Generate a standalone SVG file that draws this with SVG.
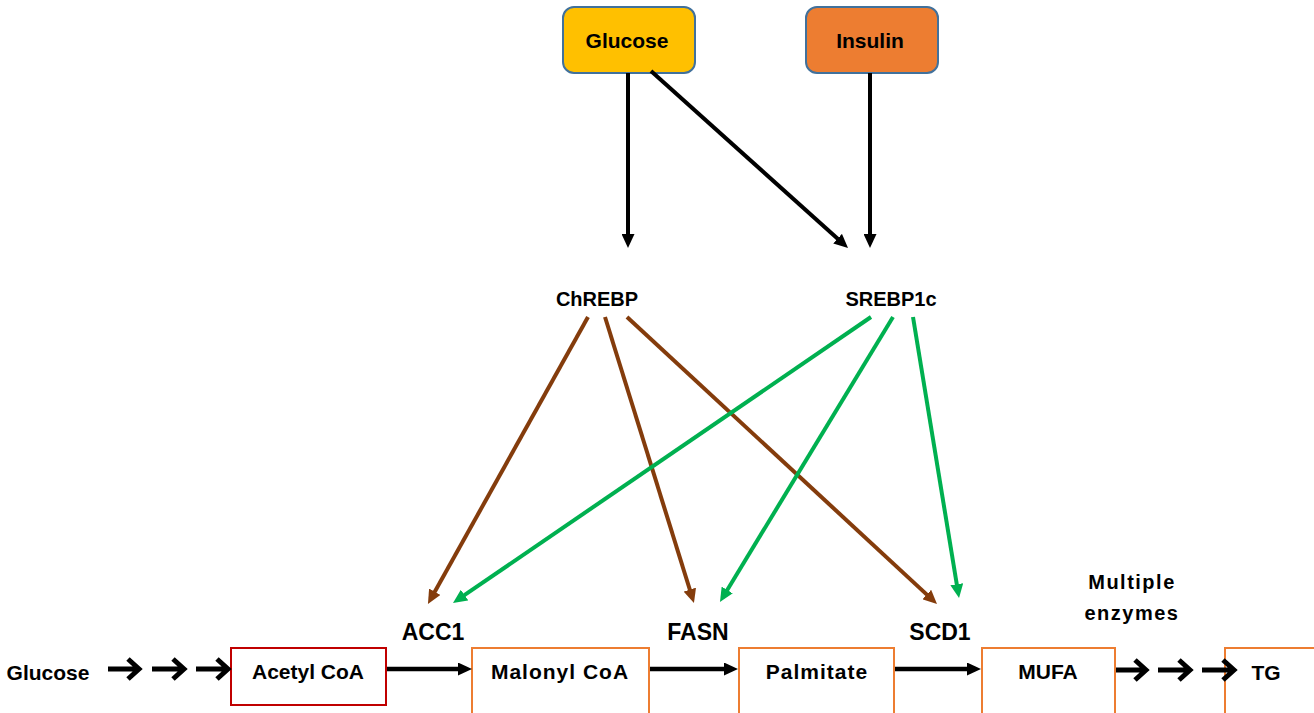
<svg xmlns="http://www.w3.org/2000/svg" width="1314" height="713" viewBox="0 0 1314 713">
<style>
text{font-family:"Liberation Sans",Arial,sans-serif;font-weight:bold;fill:#000;text-anchor:middle}
.top{fill:#FFC000;stroke:#41719C;stroke-width:2}
.ins{fill:#ED7D31;stroke:#41719C;stroke-width:2}
.box{fill:#fff;stroke:#ED7D31;stroke-width:2}
.red{fill:#fff;stroke:#C00000;stroke-width:2}
.blk{stroke:#000;stroke-width:4;fill:none}
.hz{stroke:#000;stroke-width:4.5;fill:none}
.brn{stroke:#843C0C;stroke-width:4;fill:none}
.grn{stroke:#00B050;stroke-width:4;fill:none}
.chev{stroke:#000;stroke-width:5;fill:none;stroke-linejoin:miter}
.t21{font-size:21px}
.t20{font-size:20px}
.t23{font-size:23px}
.ls1{letter-spacing:1px}
.ls15{letter-spacing:1.5px}
</style>
<defs>
<marker id="ab" markerUnits="userSpaceOnUse" markerWidth="14" markerHeight="13" refX="2" refY="6.5" orient="auto"><path d="M0,0 L14,6.5 L0,13 z" fill="#000"/></marker>
<marker id="ar" markerUnits="userSpaceOnUse" markerWidth="14" markerHeight="13" refX="2" refY="6.5" orient="auto"><path d="M0,0 L14,6.5 L0,13 z" fill="#843C0C"/></marker>
<marker id="ag" markerUnits="userSpaceOnUse" markerWidth="14" markerHeight="13" refX="2" refY="6.5" orient="auto"><path d="M0,0 L14,6.5 L0,13 z" fill="#00B050"/></marker>
</defs>

<g id="glucose-top"><rect class="top" x="563" y="7" width="132" height="66" rx="11"/><text class="t21" x="627" y="48">Glucose</text></g>
<g id="insulin"><rect class="ins" x="806" y="7" width="132" height="66" rx="11"/><text class="t21" x="870" y="48">Insulin</text></g>
<g id="chrebp"><text class="t20" x="597" y="306">ChREBP</text></g>
<g id="srebp1c"><text class="t20" x="891" y="306">SREBP1c</text></g>
<g id="acc1"><text class="t23" x="433" y="640">ACC1</text></g>
<g id="fasn"><text class="t23" x="698" y="640">FASN</text></g>
<g id="scd1"><text class="t23" x="940" y="640">SCD1</text></g>
<g id="multiple-enzymes"><text class="t20 ls15" x="1132" y="589">Multiple</text><text class="t20 ls15" x="1132" y="620">enzymes</text></g>
<g id="glucose-bottom"><text class="t21" x="48" y="680">Glucose</text></g>
<g id="acetyl-coa"><rect class="red" x="231" y="648" width="155" height="57"/><text class="t21" x="308" y="679">Acetyl CoA</text></g>
<g id="malonyl-coa"><rect class="box" x="472" y="648" width="177" height="80"/><text class="t21 ls1" x="560" y="679">Malonyl CoA</text></g>
<g id="palmitate"><rect class="box" x="739" y="648" width="155" height="80"/><text class="t21 ls1" x="817" y="679">Palmitate</text></g>
<g id="mufa"><rect class="box" x="982" y="648" width="133" height="80"/><text class="t21" x="1048" y="679">MUFA</text></g>
<g id="tg"><rect class="box" x="1225" y="648" width="100" height="80"/><text class="t21" x="1266" y="680">TG</text></g>

<g id="connectors">
<line class="blk" x1="628" y1="73" x2="628" y2="236" marker-end="url(#ab)"/>
<line class="blk" x1="651" y1="71" x2="839.1" y2="240" marker-end="url(#ab)"/>
<line class="blk" x1="870" y1="73" x2="870" y2="236" marker-end="url(#ab)"/>
<line class="brn" x1="588" y1="317" x2="433.8" y2="593.5" marker-end="url(#ar)"/>
<line class="brn" x1="605" y1="317" x2="690.4" y2="591.5" marker-end="url(#ar)"/>
<line class="brn" x1="627" y1="317" x2="928.2" y2="595.9" marker-end="url(#ar)"/>
<line class="grn" x1="871" y1="317" x2="462.9" y2="596.2" marker-end="url(#ag)"/>
<line class="grn" x1="893" y1="317" x2="726.2" y2="591.7" marker-end="url(#ag)"/>
<line class="grn" x1="913" y1="317" x2="957.1" y2="586.2" marker-end="url(#ag)"/>
<line class="hz" x1="387" y1="669" x2="460" y2="669" marker-end="url(#ab)"/>
<line class="hz" x1="650" y1="669" x2="726" y2="669" marker-end="url(#ab)"/>
<line class="hz" x1="895" y1="669" x2="969" y2="669" marker-end="url(#ab)"/>
<path class="chev" d="M108,669 H139 M128,659 L139,669 L128,679"/>
<path class="chev" d="M152,669 H184 M173,659 L184,669 L173,679"/>
<path class="chev" d="M196,669 H228 M217,659 L228,669 L217,679"/>
<path class="chev" d="M1116,670 H1146 M1135,660 L1146,670 L1135,680"/>
<path class="chev" d="M1158,670 H1190 M1179,660 L1190,670 L1179,680"/>
<path class="chev" d="M1202,670 H1234 M1223,660 L1234,670 L1223,680"/>
</g>
</svg>
